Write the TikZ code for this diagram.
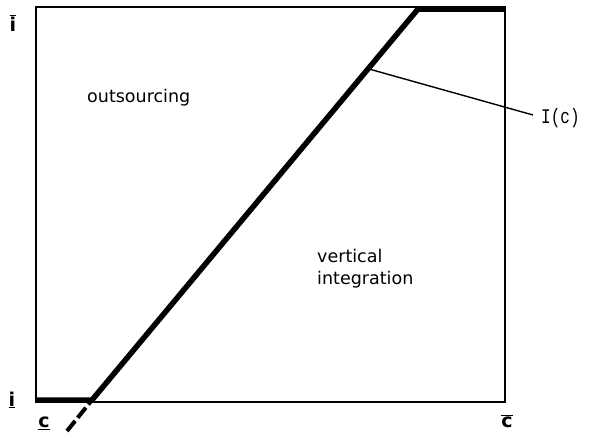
\documentclass[tikz,border=0pt]{standalone}
\usepackage{fontspec}
\setmainfont{DejaVu Sans}
\newfontfamily\monofnt{Liberation Mono}
\begin{document}
\begin{tikzpicture}[x=1pt,y=-1pt,
  lbl/.style={inner sep=0pt,font=\fontsize{17.5}{22}\selectfont},
  axlbl/.style={inner sep=0pt,font=\fontsize{19}{21}\selectfont\bfseries},
  thickln/.style={line width=5.5pt},
  thinln/.style={line width=1.4pt}]
\useasboundingbox[fill=white] (0,0) rectangle (597,434);
\coordinate (tl) at (36,7);
\coordinate (br) at (505,402);
\coordinate (kl) at (92,400);
\coordinate (kh) at (418,9);
\coordinate (dl) at (67,431);
\coordinate (pt) at (369,69);
\coordinate (le) at (533,115);
\draw[thinln] (tl) rectangle (br);
\draw[thickln] (36,400) -- (kl) -- (kh) -- (505,9);
\draw[line width=4pt, dash pattern=on 13pt off 4pt] (dl) -- (kl);
\draw[thinln] (pt) -- (le);
\node[lbl, anchor=west] (out) at (87,98) {outsourcing};
\node[lbl, align=left, anchor=west] (vi) at (317,269) {vertical\\integration};
\node[inner sep=0pt, anchor=west, font=\monofnt\fontsize{16}{18}\selectfont] (ic) at (541,118) {\scalebox{1}[1.3]{I(c)}};
\node[axlbl] (ibar) at (13,23) {$\overline{\mbox{i}}$};
\node[axlbl] (iund) at (12,400) {\underline{i}};
\node[axlbl] (cund) at (44,423) {\underline{c}};
\node[axlbl] (cbar) at (507,421) {$\overline{\mbox{c}}$};
\end{tikzpicture}
\end{document}
